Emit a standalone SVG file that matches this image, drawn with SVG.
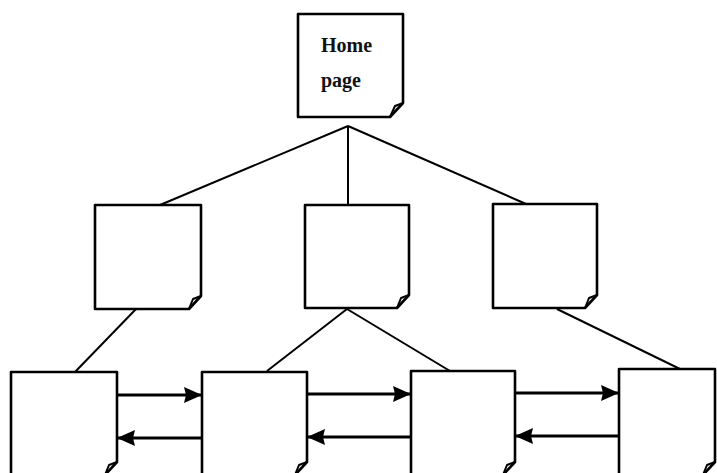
<svg xmlns="http://www.w3.org/2000/svg" width="717" height="473" viewBox="0 0 717 473">
<style>
.box{fill:#fff;stroke:#000;stroke-width:2.6;stroke-linejoin:round}
.fold{fill:none;stroke:#000;stroke-width:2;stroke-linejoin:round}
.line{stroke:#000;stroke-width:2;fill:none}
.arrow{stroke:#000;stroke-width:3.2;fill:none}
.lbl{font-family:"Liberation Serif","Times New Roman",serif;font-size:20px;font-weight:bold;fill:#111}
</style>
<defs>
<marker id="ah" viewBox="0 0 18 16" refX="17" refY="8" markerWidth="18" markerHeight="16" markerUnits="userSpaceOnUse" orient="auto">
<path d="M0,0 L18,8 L0,16 L2,8 Z" fill="#000"/>
</marker>
</defs>
<rect width="717" height="473" fill="#fff"/>
<g id="connectors">
<path class="line" d="M348,126 L160,205"/>
<path class="line" d="M348,126 L348,205"/>
<path class="line" d="M348,126 L533,207"/>
<path class="line" d="M136,309 L75,372"/>
<path class="line" d="M347,309 L267,371"/>
<path class="line" d="M347,309 L450,371"/>
<path class="line" d="M557,309 L680,369"/>
<path class="arrow" d="M117,395 L201,395" marker-end="url(#ah)"/>
<path class="arrow" d="M202,438 L118,438" marker-end="url(#ah)"/>
<path class="arrow" d="M307,394 L410,394" marker-end="url(#ah)"/>
<path class="arrow" d="M411,437 L308,437" marker-end="url(#ah)"/>
<path class="arrow" d="M515,393 L618,393" marker-end="url(#ah)"/>
<path class="arrow" d="M619,436 L516,436" marker-end="url(#ah)"/>
</g>
<g id="home">
<path class="box" d="M298,14 H403 V103 L390,117 H298 Z"/>
<path class="fold" d="M403,103 L395,106 L390,117"/>
<text class="lbl" x="321" y="52">Home</text>
<text class="lbl" x="321" y="87">page</text>
</g>
<g id="n2a">
<path class="box" d="M95,205 H201 V296 L189,309 H95 Z"/>
<path class="fold" d="M201,296 L193,299 L189,309"/>
</g>
<g id="n2b">
<path class="box" d="M305,205 H409 V295 L397,308 H305 Z"/>
<path class="fold" d="M409,295 L401,298 L397,308"/>
</g>
<g id="n2c">
<path class="box" d="M493,204 H597 V295 L585,308 H493 Z"/>
<path class="fold" d="M597,295 L589,298 L585,308"/>
</g>
<g id="n3a">
<path class="box" d="M11,372 H117 V462 L105,475 H11 Z"/>
<path class="fold" d="M117,462 L109,465 L105,475"/>
</g>
<g id="n3b">
<path class="box" d="M202,372 H307 V462 L295,475 H202 Z"/>
<path class="fold" d="M307,462 L299,465 L295,475"/>
</g>
<g id="n3c">
<path class="box" d="M411,371 H515 V462 L503,475 H411 Z"/>
<path class="fold" d="M515,462 L507,465 L503,475"/>
</g>
<g id="n3d">
<path class="box" d="M619,369 H715 V462 L703,475 H619 Z"/>
<path class="fold" d="M715,462 L707,465 L703,475"/>
</g>
</svg>
